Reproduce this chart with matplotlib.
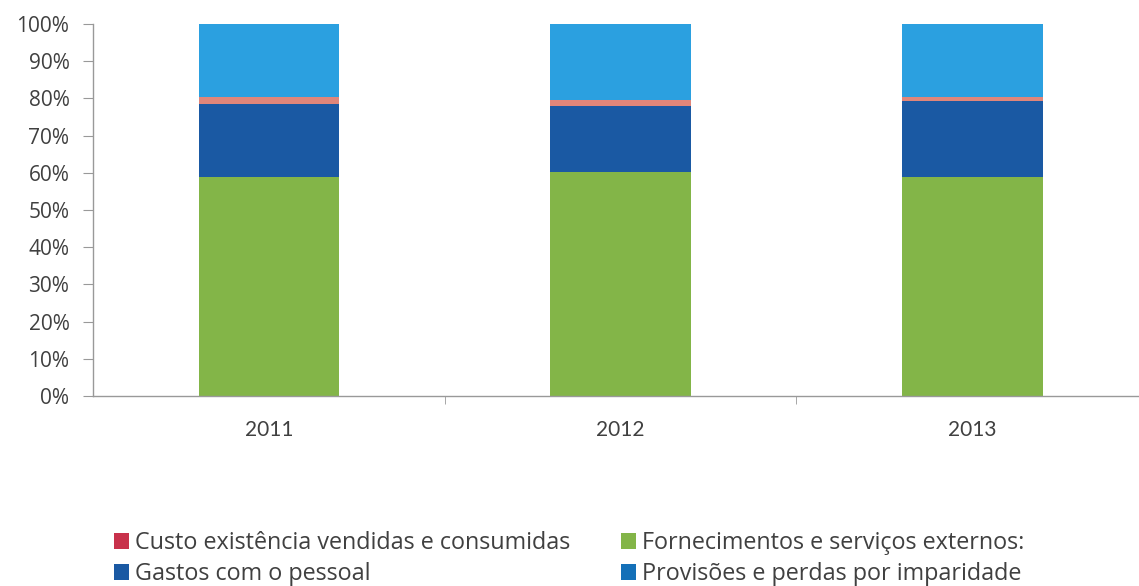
import matplotlib
matplotlib.use("Agg")
import matplotlib.pyplot as plt
from matplotlib.ticker import FixedLocator, PercentFormatter

years = ["2011", "2012", "2013"]
custo = [0.0, 0.0, 0.0]
fornecimentos = [58.8, 60.3, 58.8]
gastos_pessoal = [19.7, 17.7, 20.4]
provisoes = [0.0, 0.0, 0.0]
outros_a = [1.9, 1.7, 1.1]
outros_b = [19.6, 20.3, 19.7]

series = [
    ("Custo existência vendidas e consumidas", custo, "#C8314B"),
    ("Fornecimentos e serviços externos:", fornecimentos, "#83B548"),
    ("Gastos com o pessoal", gastos_pessoal, "#1A59A3"),
    ("Provisões e perdas por imparidade", provisoes, "#1470B8"),
    ("_outros_a", outros_a, "#E0867A"),
    ("_outros_b", outros_b, "#2BA0E0"),
]

plt.rcParams['font.family'] = ['Open Sans', 'DejaVu Sans']
fig = plt.figure(figsize=(11.39, 5.86), dpi=100)
W, H = 1139, 586
x0, x1 = 93, 1148
y0, y1 = 396, 24
ax = fig.add_axes([x0 / W, 1 - y0 / H, (x1 - x0) / W, (y0 - y1) / H])

pos = list(range(len(years)))
bottom = [0.0] * len(years)
handles = {}
for name, vals, col in series:
    bc = ax.bar(pos, vals, width=0.4, bottom=bottom, color=col, label=name)
    handles[name] = bc
    bottom = [b + v for b, v in zip(bottom, vals)]

ax.set_xlim(-0.5, 2.5)
ax.set_ylim(0, 100)
ax.yaxis.set_major_locator(FixedLocator(range(0, 101, 10)))
ax.yaxis.set_major_formatter(PercentFormatter(decimals=0))
ax.set_xticks(pos)
ax.set_xticklabels(years, fontfamily=['Lato', 'DejaVu Sans'])
ax.set_xticks([0.5, 1.5], minor=True)
ax.tick_params(axis='x', which='major', length=0, pad=17, labelsize=15, colors='#404040')
ax.tick_params(axis='x', which='minor', length=6, color='#999999', direction='out')
ax.tick_params(axis='y', length=7, color='#999999', pad=10, labelsize=15, labelcolor='#404040')
for s in ['top', 'right']:
    ax.spines[s].set_visible(False)
for s in ['left', 'bottom']:
    ax.spines[s].set_color('#999999')
    ax.spines[s].set_linewidth(1.0)

names = [s[0] for s in series]
leg_kw = dict(frameon=False, fontsize=16.8, handlelength=0.65, handleheight=0.65,
              handletextpad=0.25, labelspacing=0.3, labelcolor='#404040',
              loc='upper left', borderaxespad=0, borderpad=0)
fig.legend([handles[names[0]], handles[names[2]]], [names[0], names[2]],
           bbox_to_anchor=(114 / W, 1 - 531 / H), **leg_kw)
fig.legend([handles[names[1]], handles[names[3]]], [names[1], names[3]],
           bbox_to_anchor=(621 / W, 1 - 531 / H), **leg_kw)

fig.savefig("out.png", dpi=100)
